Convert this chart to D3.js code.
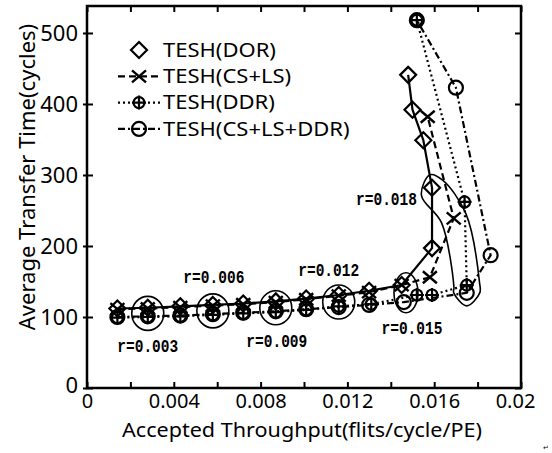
<!DOCTYPE html>
<html>
<head>
<meta charset="utf-8">
<script src="https://cdn.jsdelivr.net/npm/d3@7"></script>
<style>
  body { margin: 0; background: #fff; }
  svg { display: block; }
  text { font-family: "Noto Sans", sans-serif; fill: #000; }
</style>
</head>
<body>
<svg id="svg"></svg>
<script>
const width = 552, height = 453;

// injection rates, one per point
const rates = [0.0015, 0.003, 0.0045, 0.006, 0.0075, 0.009, 0.0105, 0.012, 0.0135, 0.015, 0.0165, 0.018, 0.0195, 0.021, 0.0225];

// TESH(DOR)
const dorX = [0.0014, 0.0028, 0.0043, 0.0058, 0.0072, 0.0087, 0.0101, 0.0116, 0.0130, 0.0145, 0.0159, 0.0159, 0.0155, 0.0150, 0.0148];
const dorY = [112, 113, 115, 117, 119, 122, 126, 131, 137, 145, 197, 282, 349, 392, 441];

// TESH(CS+LS)
const cslsX = [0.0014, 0.0028, 0.0043, 0.0058, 0.0072, 0.0087, 0.0101, 0.0116, 0.0130, 0.0145, 0.0158, 0.0169, 0.0157];
const cslsY = [111, 112, 114, 116, 118, 121, 125, 130, 135, 145, 156, 239, 382];

// TESH(DDR)
const ddrX = [0.0014, 0.0028, 0.0043, 0.0058, 0.0072, 0.0087, 0.0101, 0.0116, 0.0131, 0.0152, 0.0159, 0.0175, 0.0174, 0.0152];
const ddrY = [99, 100, 101, 103, 105, 107, 110, 115, 118, 131, 131, 145, 262, 518];

// TESH(CS+LS+DDR)
const combX = [0.0014, 0.0028, 0.0043, 0.0058, 0.0072, 0.0087, 0.0101, 0.0116, 0.0130, 0.0146, 0.0175, 0.0186, 0.0170, 0.0152];
const combY = [100, 101, 102, 104, 106, 108, 111, 114, 117, 121, 134, 187, 423, 518];
const combRates = [0.0015, 0.003, 0.0045, 0.006, 0.0075, 0.009, 0.0105, 0.012, 0.0135, 0.015, 0.018, 0.0195, 0.021, 0.0225];

// circled rates and their labels
const circledRates = [0.003, 0.006, 0.009, 0.012, 0.015, 0.018];
const circledLabels = ["r=0.003", "r=0.006", "r=0.009", "r=0.012", "r=0.015", "r=0.018"];

const xTicks = [0, 0.002, 0.004, 0.006, 0.008, 0.010, 0.012, 0.014, 0.016, 0.018, 0.020];
const xTickLabels = ["0", "", "0.004", "", "0.008", "", "0.012", "", "0.016", "", "0.02"];
const yTicks = [0, 100, 200, 300, 400, 500];

const series = [
  { name: "TESH(DOR)", xs: dorX, ys: dorY, rs: rates, marker: "diamond", dash: null },
  { name: "TESH(CS+LS)", xs: cslsX, ys: cslsY, rs: rates, marker: "cross", dash: "7,4" },
  { name: "TESH(DDR)", xs: ddrX, ys: ddrY, rs: rates, marker: "plusCircle", dash: "2,3" },
  { name: "TESH(CS+LS+DDR)", xs: combX, ys: combY, rs: combRates, marker: "circle", dash: "7,3,2,3" }
];

const plotLeft = 87, plotRight = 521, plotTop = 6, plotBottom = 388;
const x = d3.scaleLinear().domain([0, 0.02]).range([plotLeft, plotRight]);
const y = d3.scaleLinear().domain([0, 538]).range([plotBottom, plotTop]);

const svg = d3.select("#svg").attr("width", width).attr("height", height);

// axes with inward ticks
const gx = svg.append("g").attr("transform", `translate(0,${plotBottom})`)
  .call(d3.axisBottom(x).tickValues(xTicks).tickSize(-6).tickSizeOuter(0)
    .tickFormat((d, i) => xTickLabels[i]));
gx.selectAll("text").attr("y", 20).attr("dy", "0").style("font-size", "20px");
gx.selectAll(".tick:last-of-type text").attr("dx", -6);

svg.append("g").attr("transform", `translate(0,${plotTop})`)
  .call(d3.axisTop(x).tickValues(xTicks).tickSize(-6).tickSizeOuter(0).tickFormat(""));

const gy = svg.append("g").attr("transform", `translate(${plotLeft},0)`)
  .call(d3.axisLeft(y).tickValues(yTicks).tickSize(-6).tickSizeOuter(0));
gy.selectAll("line").attr("x1", -4);
gy.selectAll("text").attr("x", -9).style("font-size", "22px");
gy.selectAll(".tick:first-of-type text").attr("dy", "0.2em");

svg.append("g").attr("transform", `translate(${plotRight},0)`)
  .call(d3.axisRight(y).tickValues(yTicks).tickSize(-6).tickSizeOuter(0).tickFormat(""));

svg.selectAll(".domain").remove();
svg.selectAll(".tick line").attr("stroke", "#000").attr("stroke-width", 2);
svg.selectAll(".tick text").attr("fill", "#000").style("font-family", "'Noto Sans', sans-serif");

svg.append("rect")
  .attr("x", plotLeft).attr("y", plotTop)
  .attr("width", plotRight - plotLeft).attr("height", plotBottom - plotTop)
  .attr("fill", "none").attr("stroke", "#000").attr("stroke-width", 2.5);

// axis titles
svg.append("text")
  .attr("x", (plotLeft + plotRight) / 2 - 2).attr("y", 437)
  .attr("text-anchor", "middle")
  .attr("textLength", 360).attr("lengthAdjust", "spacingAndGlyphs")
  .style("font-size", "20px")
  .text("Accepted Throughput(flits/cycle/PE)");

svg.append("text")
  .attr("transform", `translate(35,${(plotTop + plotBottom) / 2 - 20}) rotate(-90)`)
  .attr("text-anchor", "middle")
  .style("font-size", "22px")
  .text("Average Transfer Time(cycles)");

// markers
function drawMarker(g, type, cx, cy) {
  if (type === "diamond") {
    g.append("path").attr("d", `M${cx},${cy - 8}L${cx + 8},${cy}L${cx},${cy + 8}L${cx - 8},${cy}Z`)
      .attr("fill", "none").attr("stroke", "#000").attr("stroke-width", 2.2);
  } else if (type === "cross") {
    g.append("path").attr("d", `M${cx - 7},${cy - 6}L${cx + 7},${cy + 6}M${cx - 7},${cy + 6}L${cx + 7},${cy - 6}`)
      .attr("stroke", "#000").attr("stroke-width", 2.4);
  } else if (type === "plusCircle") {
    g.append("circle").attr("cx", cx).attr("cy", cy).attr("r", 5.5)
      .attr("fill", "none").attr("stroke", "#000").attr("stroke-width", 2.2);
    g.append("path").attr("d", `M${cx - 7},${cy}L${cx + 7},${cy}M${cx},${cy - 7}L${cx},${cy + 7}`)
      .attr("stroke", "#000").attr("stroke-width", 2.2);
  } else {
    g.append("circle").attr("cx", cx).attr("cy", cy).attr("r", 7)
      .attr("fill", "none").attr("stroke", "#000").attr("stroke-width", 2.2);
  }
}

const line = d3.line().x(d => x(d[0])).y(d => y(d[1]));
const plot = svg.append("g");

series.forEach(s => {
  const pts = s.xs.map((v, i) => [v, s.ys[i]]);
  plot.append("path")
    .attr("d", line(pts))
    .attr("fill", "none").attr("stroke", "#000").attr("stroke-width", 2.2)
    .attr("stroke-dasharray", s.dash);
  const mg = plot.append("g");
  pts.forEach(p => drawMarker(mg, s.marker, x(p[0]), y(p[1])));
});

// annotations: loops around circled injection rates
function pointAt(s, r) {
  const i = s.rs.findIndex(v => Math.abs(v - r) < 1e-6);
  return i < 0 ? null : [x(s.xs[i]), y(s.ys[i])];
}

const labelLayout = [
  { dx: 0, dy: 40, anchor: "middle" },
  { dx: 1, dy: -27, anchor: "middle" },
  { dx: 1, dy: 40, anchor: "middle" },
  { dx: -10, dy: -25, anchor: "middle" },
  { dx: 6, dy: 42, anchor: "middle" }
];

function rateLabel(g, px, py, anchor, txt) {
  g.append("text")
    .attr("x", px).attr("y", py)
    .attr("text-anchor", anchor)
    .attr("textLength", 61).attr("lengthAdjust", "spacingAndGlyphs")
    .style("font-family", "'Liberation Mono', monospace")
    .style("font-weight", "bold")
    .style("font-size", "19px")
    .text(txt);
}

const ann = svg.append("g");
circledRates.forEach((r, k) => {
  const pts = series.map(s => pointAt(s, r)).filter(p => p);
  if (k < circledRates.length - 1) {
    const cx = d3.mean(pts, p => p[0]);
    const cy = d3.mean(pts, p => p[1]);
    const ry = k === 4 ? 20 : 17;
    const rx = k === 4 ? 12 : 16;
    ann.append("ellipse").attr("cx", cx).attr("cy", cy + 1).attr("rx", rx).attr("ry", ry)
      .attr("fill", "none").attr("stroke", "#000").attr("stroke-width", 1.6);
    const lay = labelLayout[k];
    rateLabel(ann, cx + lay.dx, cy + lay.dy, lay.anchor, circledLabels[k]);
  } else {
    // elongated loop around the r=0.018 points
    const sorted = pts.slice().sort((a, b) => a[1] - b[1]);
    const off = 13;
    const sideA = [], sideB = [];
    sorted.forEach((p, i) => {
      const a = sorted[Math.max(0, i - 1)], b = sorted[Math.min(sorted.length - 1, i + 1)];
      let tx = b[0] - a[0], ty = b[1] - a[1];
      const len = Math.hypot(tx, ty) || 1;
      tx /= len; ty /= len;
      sideA.push([p[0] - ty * off, p[1] + tx * off]);
      sideB.push([p[0] + ty * off, p[1] - tx * off]);
    });
    const first = sorted[0], last = sorted[sorted.length - 1];
    const loop = [[first[0] - 2, first[1] - off]].concat(sideB, [[last[0], last[1] + off]], sideA.reverse());
    ann.append("path")
      .attr("d", d3.line().curve(d3.curveCatmullRomClosed)(loop))
      .attr("fill", "none").attr("stroke", "#000").attr("stroke-width", 1.6);
    rateLabel(ann, first[0] - 15, first[1] + 17, "end", circledLabels[k]);
  }
});

// legend
const legend = svg.append("g");
const legendTop = 50, legendStep = 26.3;
series.forEach((s, i) => {
  const ly = legendTop + i * legendStep;
  if (s.dash) {
    legend.append("line").attr("x1", 118).attr("x2", 160).attr("y1", ly).attr("y2", ly)
      .attr("stroke", "#000").attr("stroke-width", 2.2).attr("stroke-dasharray", s.dash);
  }
  drawMarker(legend, s.marker, 139, ly);
  const t = legend.append("text").attr("x", 163).attr("y", ly).attr("dy", "0.36em")
    .style("font-size", "19px").text(s.name);
  const natural = t.node().getComputedTextLength();
  t.attr("textLength", natural * 22 / 19).attr("lengthAdjust", "spacingAndGlyphs");
});

svg.append("text").attr("x", 543).attr("y", 450)
  .style("font-size", "7px").attr("fill", "#888").text("↵");
</script>
</body>
</html>
